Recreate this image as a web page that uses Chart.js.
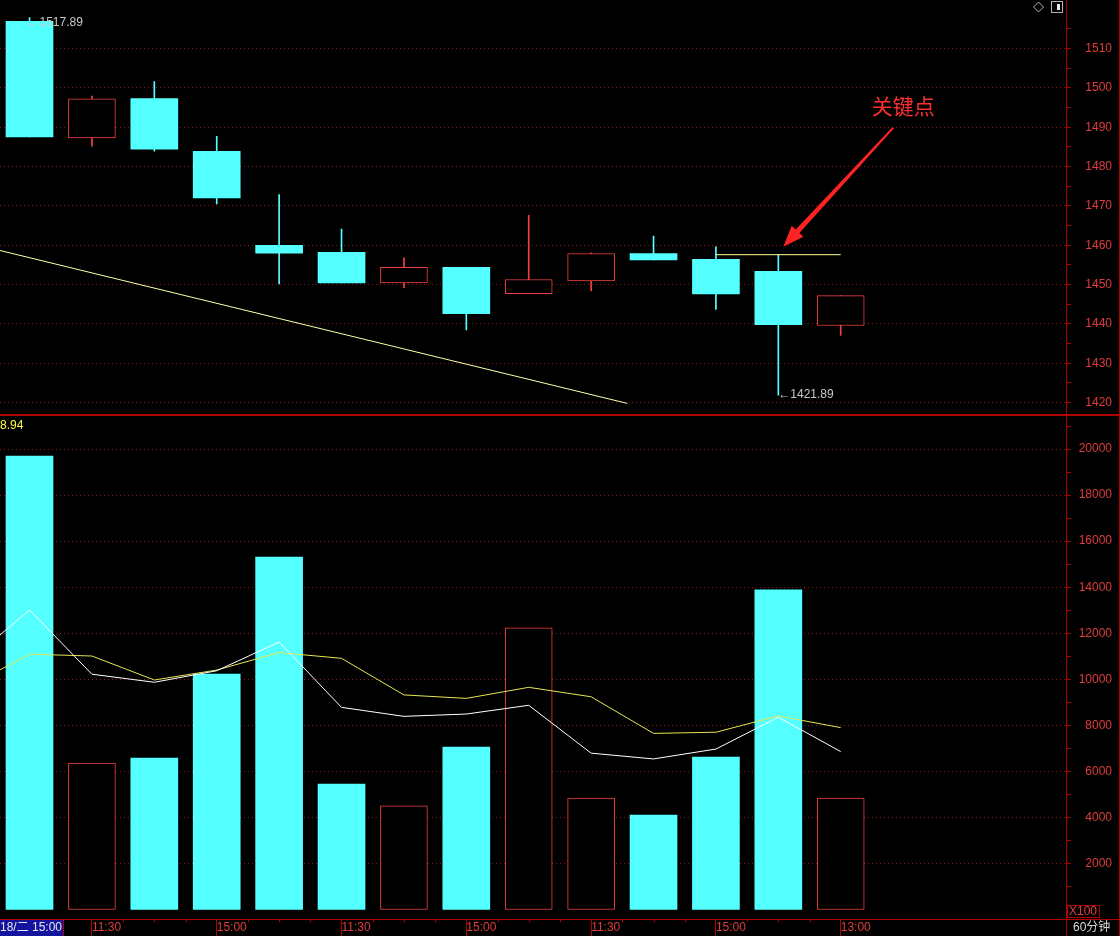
<!DOCTYPE html>
<html><head><meta charset="utf-8">
<script src="https://cdn.jsdelivr.net/npm/chart.js@4.4.1/dist/chart.umd.min.js"></script>
<style>
html,body{margin:0;padding:0;background:#000;overflow:hidden;}
#wrap{position:relative;width:1120px;height:936px;background:#000;}
canvas{position:absolute;left:0;display:block;}
#c1{top:0;} #c2{top:414px;}
</style></head><body>
<div id="wrap"><canvas id="c1" width="1120" height="414"></canvas><canvas id="c2" width="1120" height="522"></canvas></div>
<script>
// ---------------- data ----------------
const xTickLabels = ['', '11:30', '', '15:00', '', '11:30', '', '15:00', '', '11:30', '', '15:00', '', '13:00'];
const dateLabel = '18/二 15:00';
const openP  = [1516.9, 1487.3, 1497.3, 1483.9, 1460.0, 1458.2, 1450.4, 1454.4, 1447.7, 1450.9, 1457.9, 1456.4, 1453.4, 1439.6];
const closeP = [1487.5, 1497.2, 1484.4, 1472.0, 1458.0, 1450.4, 1454.4, 1442.6, 1451.3, 1457.9, 1456.3, 1447.6, 1439.8, 1447.2];
const highP  = [1517.89, 1497.9, 1501.6, 1487.7, 1472.9, 1464.1, 1456.8, 1454.4, 1467.6, 1458.1, 1462.3, 1459.6, 1457.6, 1447.2];
const lowP   = [1487.5, 1485.2, 1483.9, 1470.5, 1450.2, 1450.4, 1449.2, 1438.5, 1447.7, 1448.4, 1456.3, 1443.7, 1421.89, 1437.1];
const volume = [19700, 6360, 6580, 10230, 15310, 5450, 4500, 7060, 12230, 4840, 4100, 6620, 13880, 4840];
// moving averages of volume, first value belongs to the bar before the visible window
const maStartIndex = -1;
const volMA5  = [10720, 13010, 10220, 9870, 10370, 11620, 8780, 8390, 8490, 8870, 6790, 6540, 6970, 8350, 6860];
const volMA10 = [9650, 11090, 11010, 9970, 10400, 11160, 10910, 9320, 9170, 9650, 9240, 7650, 7700, 8410, 7900];
// drawn lines
const trendX = [-1, 9.58];
const trendY = [1460.7, 1419.8];
const keyIndex = 12;
const keyLineX = [11, 13];
const keyLineY = [1457.6, 1457.6];
const keyText = '关键点';
const volCornerText = '8.94';
const volUnitText = 'X100';
const periodText = '60分钟';

// ---------------- style ----------------
const FONT = '"Liberation Sans", Arial, "Noto Sans CJK SC", sans-serif';
const RED_TXT = '#e03c3c';
const AXIS_RED = '#b00000';
const GRID_RED = '#8c1616';
const CYAN = '#54ffff';
const UP_RED = '#f04040';
const CLEAR = 'rgba(0,0,0,0)';
const xMin = -0.473, xMax = 16.61;
Chart.defaults.font.family = FONT;
Chart.defaults.font.size = 12;

const idx = openP.map((_, i) => i);
const isUp = i => closeP[i] > openP[i];

const bodyData = idx.map(i => ({x: i, y: [openP[i], closeP[i]]}));
const wickData = idx.map(i => ({x: i, y: [lowP[i], highP[i]]}));
const volData = idx.map(i => ({x: i, y: volume[i]}));
const ma5Data = volMA5.map((v, k) => ({x: k + maStartIndex, y: v}));
const ma10Data = volMA10.map((v, k) => ({x: k + maStartIndex, y: v}));
const trendData = trendX.map((x, k) => ({x, y: trendY[k]}));
const keyData = keyLineX.map((x, k) => ({x, y: keyLineY[k]}));

const lineBase = {type: 'line', pointRadius: 0, pointHoverRadius: 0, borderWidth: 1, tension: 0, fill: false};
const yTickFont = {size: 12, lineHeight: 0.1};
const stepTicks = (step, from) => s => {
  const t = [];
  for (let v = Math.max(from, Math.ceil(s.min / step) * step); v <= s.max; v += step) t.push({value: v});
  s.ticks = t;
};

// ---------------- top (price) chart ----------------
const topDecor = {
  id: 'topDecor',
  afterDraw(chart) {
    const {ctx, scales: {x, y}} = chart;
    ctx.save();
    // high / low labels
    let hi = 0, lo = 0;
    idx.forEach(i => { if (highP[i] > highP[hi]) hi = i; if (lowP[i] < lowP[lo]) lo = i; });
    ctx.font = '12px ' + FONT;
    ctx.fillStyle = '#c8c8c8';
    ctx.textAlign = 'left';
    ctx.textBaseline = 'middle';
    ctx.fillText('←' + highP[hi].toFixed(2), x.getPixelForValue(hi) - 2, y.getPixelForValue(highP[hi]) + 5);
    ctx.fillText('←' + lowP[lo].toFixed(2), x.getPixelForValue(lo), y.getPixelForValue(lowP[lo]));
    // arrow to key point
    const tipX = x.getPixelForValue(keyIndex) + 5, tipY = y.getPixelForValue(highP[keyIndex]) - 8;
    const sx = tipX + 110, sy = tipY - 119;
    const dx = tipX - sx, dy = tipY - sy, L = Math.hypot(dx, dy);
    const ux = dx / L, uy = dy / L, nx = -uy, ny = ux;
    const hl = 21, hw = 8;
    const bx = tipX - ux * hl, by = tipY - uy * hl;
    ctx.fillStyle = '#ff2222';
    ctx.beginPath();
    ctx.moveTo(sx + nx * 1, sy + ny * 1);
    ctx.lineTo(bx + nx * 2.5, by + ny * 2.5);
    ctx.lineTo(bx + nx * hw, by + ny * hw);
    ctx.lineTo(tipX, tipY);
    ctx.lineTo(bx - nx * hw, by - ny * hw);
    ctx.lineTo(bx - nx * 2.5, by - ny * 2.5);
    ctx.lineTo(sx - nx * 1, sy - ny * 1);
    ctx.closePath();
    ctx.fill();
    ctx.font = '21px "Noto Sans CJK SC", sans-serif';
    ctx.fillStyle = '#ff3030';
    ctx.textAlign = 'center';
    ctx.fillText(keyText, tipX + 120, tipY - 141);
    // top-right icons
    ctx.strokeStyle = '#b4b4b4';
    ctx.lineWidth = 1;
    ctx.beginPath();
    ctx.moveTo(1038.5, 2); ctx.lineTo(1043.5, 7); ctx.lineTo(1038.5, 12); ctx.lineTo(1033.5, 7); ctx.closePath();
    ctx.stroke();
    ctx.strokeRect(1051.5, 1.5, 11, 11);
    ctx.fillStyle = '#e8e8e8';
    ctx.fillRect(1057, 4, 3, 6);
    // right frame
    ctx.fillStyle = AXIS_RED;
    ctx.fillRect(1119, 0, 1, chart.height);
    ctx.restore();
  }
};

new Chart(document.getElementById('c1'), {
  type: 'bar',
  data: {
    datasets: [
      {...lineBase, data: trendData, borderColor: '#ffffa8', order: 0},
      {...lineBase, data: keyData, borderColor: '#ffff90', order: 0},
      {data: bodyData, grouped: false, barThickness: 47, borderSkipped: false, order: 1,
       backgroundColor: idx.map(i => isUp(i) ? '#000000' : CYAN),
       borderColor: idx.map(i => isUp(i) ? UP_RED : CYAN),
       borderWidth: idx.map(i => isUp(i) ? 1 : 0)},
      {data: wickData, grouped: false, barThickness: 1, borderWidth: 0, order: 2,
       backgroundColor: idx.map(i => isUp(i) ? UP_RED : CYAN)}
    ]
  },
  options: {
    responsive: false, animation: false, events: [],
    layout: {padding: {top: 0, bottom: 1, left: 0, right: 8}},
    plugins: {legend: {display: false}, tooltip: {enabled: false}},
    scales: {
      x: {type: 'linear', display: false, min: xMin, max: xMax, offset: false, grid: {offset: false}},
      y: {
        position: 'right', min: 1417.36, max: 1522.18,
        afterBuildTicks: stepTicks(5, -Infinity),
        afterFit: s => { s.width = 46; },
        ticks: {autoSkip: false, crossAlign: 'far', padding: 0,
                color: RED_TXT, font: yTickFont,
                callback: v => (v % 10 === 0 && v <= 1510) ? String(v) : ''},
        grid: {lineWidth: 1, tickLength: 5, tickWidth: 1,
               color: c => (c.tick && c.tick.value % 10 === 0 && c.tick.value <= 1510) ? GRID_RED : CLEAR,
               tickColor: c => (c.tick && c.tick.value <= 1515) ? AXIS_RED : CLEAR},
        border: {display: true, color: AXIS_RED, width: 1, dash: [1, 3]}
      }
    }
  },
  plugins: [topDecor]
});

// ---------------- bottom (volume) chart ----------------
const botDecor = {
  id: 'botDecor',
  afterDraw(chart) {
    const {ctx, scales: {x}, chartArea: a} = chart;
    const y0 = a.bottom;
    ctx.save();
    // separator between panels
    ctx.fillStyle = AXIS_RED;
    ctx.fillRect(0, 0, chart.width, 2);
    // corner value
    ctx.font = '12px ' + FONT;
    ctx.fillStyle = '#ffff40';
    ctx.textAlign = 'left';
    ctx.textBaseline = 'top';
    ctx.fillText(volCornerText, 0, 6);
    // time axis strip
    ctx.fillStyle = AXIS_RED;
    ctx.fillRect(0, y0, chart.width, 1);
    ctx.fillStyle = '#1414a0';
    ctx.fillRect(0, y0 + 1, 63, 16);
    ctx.fillStyle = '#e6e6e6';
    ctx.textBaseline = 'middle';
    ctx.fillText(dateLabel, 0, y0 + 9);
    ctx.fillStyle = AXIS_RED;
    ctx.fillRect(63, y0, 1, 17);
    for (let v = 1.5; v <= 13; v += 0.5) {
      if (Number.isInteger(v) && xTickLabels[v]) continue;
      const px = Math.round(x.getPixelForValue(v));
      ctx.fillRect(px, y0, 1, 3);
    }
    ctx.fillRect(a.right, y0, 1, chart.height - y0);
    // unit box
    ctx.strokeStyle = AXIS_RED;
    ctx.lineWidth = 1;
    ctx.strokeRect(a.right + 1.5, y0 - 13.5, 32, 12);
    ctx.fillStyle = RED_TXT;
    ctx.fillText(volUnitText, a.right + 3, y0 - 7);
    // period
    ctx.fillStyle = '#d8d8d8';
    ctx.fillText(periodText, a.right + 7, y0 + 9);
    // right frame
    ctx.fillStyle = AXIS_RED;
    ctx.fillRect(1119, 0, 1, chart.height);
    ctx.restore();
  }
};

new Chart(document.getElementById('c2'), {
  type: 'bar',
  data: {
    datasets: [
      {...lineBase, data: ma5Data, borderColor: '#ffffff', order: 0},
      {...lineBase, data: ma10Data, borderColor: '#e6e650', order: 0},
      {data: volData, grouped: false, barThickness: 47, borderSkipped: false, order: 1,
       backgroundColor: idx.map(i => isUp(i) ? '#000000' : CYAN),
       borderColor: idx.map(i => isUp(i) ? UP_RED : CYAN),
       borderWidth: idx.map(i => isUp(i) ? 1 : 0)}
    ]
  },
  options: {
    responsive: false, animation: false, events: [],
    layout: {padding: {top: 2, bottom: 0, left: 0, right: 8}},
    plugins: {legend: {display: false}, tooltip: {enabled: false}},
    scales: {
      x: {
        type: 'linear', min: xMin, max: xMax, offset: false,
        afterBuildTicks: s => { s.ticks = xTickLabels.map((t, i) => ({value: i, t})).filter(o => o.t).map(o => ({value: o.value})); },
        afterFit: s => { s.height = 17; },
        ticks: {autoSkip: false, maxRotation: 0, minRotation: 0, align: 'start', padding: -16,
                color: RED_TXT, font: {size: 12}, callback: v => xTickLabels[v] || ''},
        grid: {offset: false, drawOnChartArea: false, drawTicks: true, tickLength: 17, tickColor: AXIS_RED, color: AXIS_RED},
        border: {display: true, color: AXIS_RED, width: 1}
      },
      y: {
        position: 'right', min: -412.6, max: 21436,
        afterBuildTicks: stepTicks(1000, 1000),
        afterFit: s => { s.width = 46; },
        ticks: {autoSkip: false, crossAlign: 'far', padding: 0,
                color: RED_TXT, font: yTickFont,
                callback: v => (v % 2000 === 0 && v <= 20000) ? String(v) : ''},
        grid: {lineWidth: 1, tickLength: 5, tickWidth: 1,
               color: c => (c.tick && c.tick.value % 2000 === 0 && c.tick.value <= 20000) ? GRID_RED : CLEAR,
               tickColor: AXIS_RED},
        border: {display: true, color: AXIS_RED, width: 1, dash: [1, 3]}
      }
    }
  },
  plugins: [botDecor]
});
</script>
</body></html>
